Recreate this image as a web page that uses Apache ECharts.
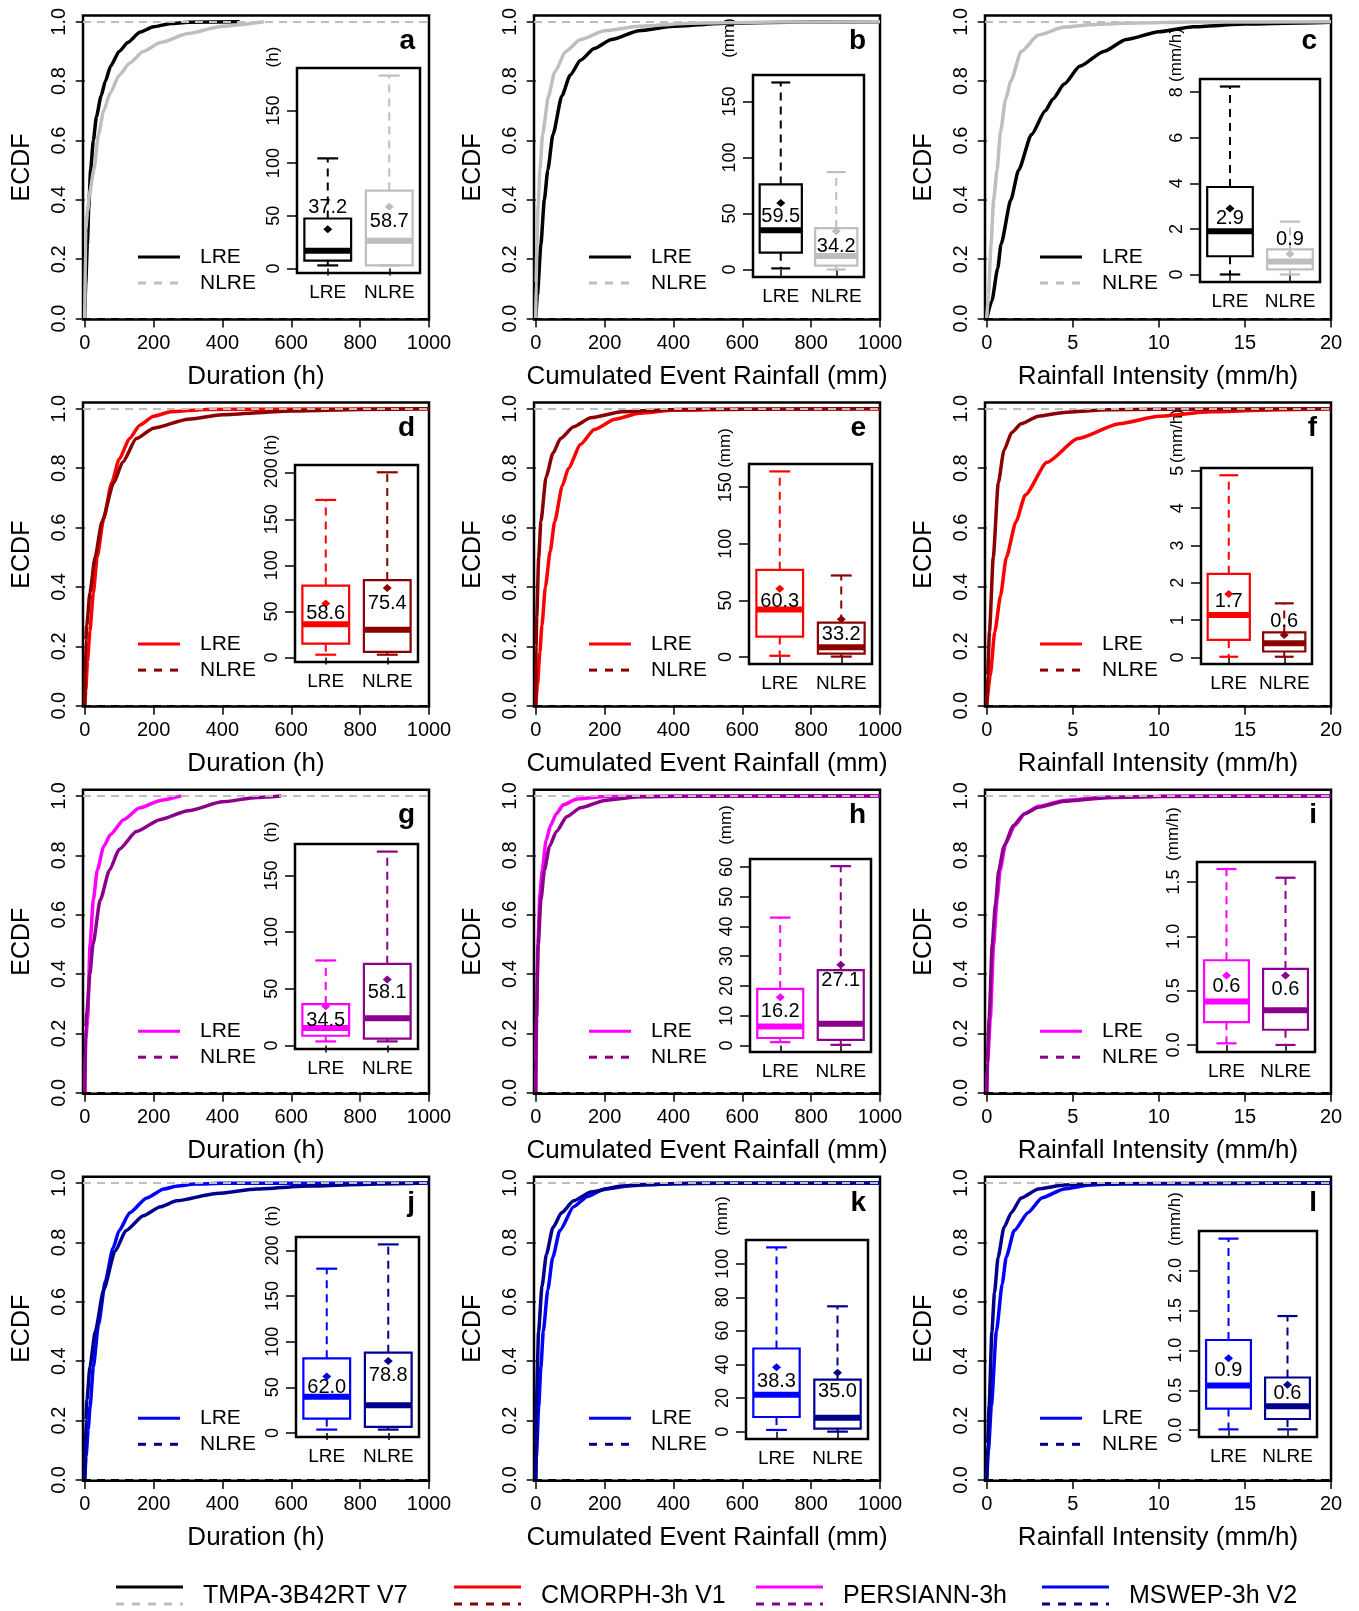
<!DOCTYPE html>
<html>
<head>
<meta charset="utf-8">
<script src="https://cdn.jsdelivr.net/npm/echarts@6/dist/echarts.min.js"></script>
<style>
  html, body { margin: 0; padding: 0; background: #fff; }
  #chart { width: 1359px; height: 1611px; }
</style>
</head>
<body>
<div id="chart"></div>
<script>
// ===== DATA =====
const products = ['TMPA-3B42RT V7', 'CMORPH-3h V1', 'PERSIANN-3h', 'MSWEP-3h V2'];
const panelLetters = ['a', 'b', 'c', 'd', 'e', 'f', 'g', 'h', 'i', 'j', 'k', 'l'];
const xTitles = ['Duration (h)', 'Cumulated Event Rainfall (mm)', 'Rainfall Intensity (mm/h)'];
const unitLabels = ['(h)', '(mm)', '(mm/h)'];
const boxCats = ['LRE', 'NLRE'];
const ecdfTicks = [0, 0.2, 0.4, 0.6, 0.8, 1.0];
const ecdfTickLabels = ['0.0', '0.2', '0.4', '0.6', '0.8', '1.0'];
const durTicks = [0, 200, 400, 600, 800, 1000];
const rainTicks = [0, 200, 400, 600, 800, 1000];
const intTicks = [0, 5, 10, 15, 20];

// ECDF curves [x, F]
const ecdfA_LRE = [[0,0],[3,0.12],[7.6,0.25],[12,0.38],[17,0.5],[25,0.6],[34,0.68],[47.5,0.75],[60,0.8],[75,0.85],[100,0.9],[125,0.93],[160,0.965],[200,0.983],[250,0.994],[300,0.998],[450,1.0]];
const ecdfA_NLRE = [[0,0],[3,0.3],[8,0.36],[15,0.43],[26.5,0.5],[40,0.62],[55,0.7],[74,0.76],[100,0.82],[130,0.86],[170,0.9],[220,0.93],[300,0.96],[400,0.985],[520,1.0]];
const ecdfB_LRE = [[0,0],[5,0.08],[15,0.25],[25,0.4],[35,0.5],[50,0.62],[76,0.75],[100,0.82],[130,0.87],[170,0.91],[220,0.94],[300,0.97],[400,0.985],[550,0.995],[800,0.999],[1000,1.0]];
const ecdfB_NLRE = [[0,0],[1,0.12],[3.5,0.25],[7,0.38],[12,0.5],[20,0.62],[37,0.75],[55,0.83],[87,0.9],[130,0.94],[200,0.97],[300,0.985],[450,0.995],[700,0.999],[1000,1.0]];
const ecdfC_LRE = [[0,0],[0.3,0.06],[0.64,0.17],[0.83,0.25],[1.4,0.4],[1.85,0.5],[2.6,0.62],[3.4,0.7],[3.85,0.74],[4.5,0.79],[5.4,0.85],[6.8,0.9],[8.1,0.94],[10,0.966],[12,0.983],[15,0.992],[20,0.998]];
const ecdfC_NLRE = [[0,0],[0.1,0.08],[0.25,0.25],[0.4,0.4],[0.6,0.5],[0.8,0.63],[1.1,0.74],[1.4,0.8],[2.0,0.9],[3.0,0.955],[4.5,0.982],[6,0.99],[8,0.995],[12,0.999],[20,1.0]];
const ecdfD_LRE = [[0,0],[3,0.05],[8,0.15],[15,0.25],[25,0.38],[36,0.5],[55,0.63],[78,0.75],[100,0.83],[130,0.9],[160,0.945],[200,0.975],[250,0.99],[350,0.998],[500,0.999],[1000,1.0]];
const ecdfD_NLRE = [[0,0],[3,0.22],[6,0.27],[15,0.38],[30,0.5],[50,0.62],[84,0.75],[110,0.82],[150,0.9],[200,0.935],[300,0.965],[400,0.98],[600,0.993],[800,0.998],[1000,1.0]];
const ecdfE_LRE = [[0,0],[5,0.07],[12,0.18],[18,0.27],[28,0.4],[42,0.52],[55,0.62],[77,0.74],[95,0.8],[130,0.88],[170,0.93],[230,0.965],[300,0.985],[400,0.995],[600,0.999],[1000,1.0]];
const ecdfE_NLRE = [[0,0],[1,0.2],[3,0.3],[8.6,0.5],[15,0.62],[30,0.77],[50,0.85],[72,0.9],[110,0.94],[160,0.97],[250,0.99],[400,0.998],[600,0.999],[1000,1.0]];
const ecdfF_LRE = [[0,0],[0.2,0.1],[0.47,0.25],[0.8,0.37],[1.14,0.5],[1.7,0.62],[2.24,0.71],[3.5,0.82],[5.3,0.9],[7.7,0.95],[10,0.975],[13,0.99],[17,0.997],[20,1.0]];
const ecdfF_NLRE = [[0,0],[0.05,0.1],[0.16,0.25],[0.38,0.5],[0.67,0.75],[1.0,0.86],[1.45,0.92],[2,0.95],[3,0.975],[4.5,0.988],[7,0.997],[10,0.999],[20,1.0]];
const ecdfG_LRE = [[0,0],[3,0.18],[8.6,0.25],[15.4,0.5],[25,0.65],[36.5,0.75],[55,0.83],[75,0.87],[113,0.92],[160,0.96],[220,0.985],[280,1.0]];
const ecdfG_NLRE = [[0,0],[3,0.22],[6,0.27],[15,0.4],[24,0.5],[45,0.65],[72,0.75],[100,0.82],[150,0.88],[218,0.92],[300,0.95],[400,0.98],[500,0.995],[570,1.0]];
const ecdfH_LRE = [[0,0],[1.1,0.1],[2.5,0.25],[6.4,0.5],[12,0.67],[19,0.75],[30,0.85],[43,0.9],[60,0.94],[80,0.97],[120,0.99],[200,0.998],[1000,1.0]];
const ecdfH_NLRE = [[0,0],[0.5,0.12],[1.9,0.25],[7.3,0.5],[15,0.65],[25.3,0.75],[40,0.83],[60,0.88],[90,0.93],[130,0.96],[200,0.985],[300,0.997],[400,0.999],[1000,1.0]];
const ecdfI_LRE = [[0,0],[0.05,0.1],[0.21,0.25],[0.4,0.5],[0.6,0.65],[0.78,0.75],[1.1,0.84],[1.62,0.9],[2.2,0.94],[3,0.965],[4.5,0.985],[7,0.996],[10,0.999],[20,1.0]];
const ecdfI_NLRE = [[0,0],[0.03,0.1],[0.14,0.25],[0.32,0.5],[0.5,0.63],[0.7,0.75],[1.0,0.83],[1.54,0.9],[2.2,0.94],[3,0.962],[4.5,0.982],[7,0.994],[10,0.998],[20,1.0]];
const ecdfJ_LRE = [[0,0],[4,0.08],[10,0.17],[15.8,0.25],[25,0.38],[39.6,0.52],[60,0.67],[82,0.78],[100,0.84],[131,0.9],[180,0.95],[230,0.98],[270,0.99],[320,0.997],[400,0.999],[1000,1.0]];
const ecdfJ_NLRE = [[0,0],[3,0.2],[6.6,0.27],[15,0.38],[30.5,0.5],[55,0.64],[88,0.77],[120,0.84],[170,0.89],[220,0.92],[267,0.94],[383,0.965],[500,0.98],[650,0.99],[850,0.997],[1000,1.0]];
const ecdfK_LRE = [[0,0],[2,0.08],[8.7,0.25],[15,0.38],[22,0.5],[35,0.64],[49.5,0.75],[70,0.84],[110,0.92],[150,0.955],[200,0.98],[300,0.995],[450,0.999],[1000,1.0]];
const ecdfK_NLRE = [[0,0],[0.5,0.12],[1.8,0.25],[8.3,0.5],[18,0.65],[31,0.76],[50,0.85],[75,0.9],[110,0.94],[160,0.97],[250,0.99],[400,0.998],[550,0.999],[1000,1.0]];
const ecdfL_LRE = [[0,0],[0.1,0.1],[0.27,0.25],[0.56,0.5],[0.9,0.66],[1.13,0.75],[1.6,0.84],[2.4,0.9],[3.2,0.95],[4.5,0.98],[6,0.993],[8,0.998],[20,1.0]];
const ecdfL_NLRE = [[0,0],[0.05,0.12],[0.14,0.25],[0.3,0.5],[0.45,0.63],[0.66,0.75],[1.0,0.85],[1.43,0.9],[2,0.95],[3,0.98],[4.5,0.993],[6,0.998],[20,1.0]];

// inset boxplots: [low whisker, Q1, median, Q3, high whisker, mean] for LRE, NLRE
const boxA = [[3, 7.6, 17, 47.5, 104.5, 37.2], [3, 3, 26.5, 74, 183, 58.7]];
const boxB = [[1, 15, 35, 76, 167, 59.5], [0, 3.5, 12, 37, 87, 34.2]];
const boxC = [[0, 0.8, 1.9, 3.84, 8.25, 2.9], [0, 0.22, 0.57, 1.1, 2.32, 0.9]];
const boxD = [[3, 15, 36, 78, 171, 58.6], [3, 6, 30, 84, 201, 75.4]];
const boxE = [[1, 18, 42, 77, 164, 60.3], [0.3, 3, 8.6, 30.4, 72, 33.2]];
const boxF = [[0.02, 0.47, 1.14, 2.24, 4.88, 1.7], [0.02, 0.16, 0.38, 0.67, 1.45, 0.6]];
const boxG = [[3.6, 8.6, 15.4, 36.5, 75, 34.5], [3.6, 6, 24, 72, 171, 58.1]];
const boxH = [[1.1, 2.5, 6.4, 19, 43, 16.2], [0.2, 1.9, 7.3, 25.3, 60.3, 27.1]];
const boxI = [[0.015, 0.21, 0.4, 0.78, 1.62, 0.64], [0, 0.14, 0.32, 0.7, 1.54, 0.64]];
const boxJ = [[3.7, 15.8, 39.6, 81.8, 180, 62.0], [3.7, 6.6, 30.5, 88, 206.6, 78.8]];
const boxK = [[1, 8.7, 22, 49.5, 109.7, 38.3], [0, 1.8, 8.3, 31, 74.6, 35.0]];
const boxL = [[0.01, 0.27, 0.56, 1.13, 2.4, 0.9], [0.01, 0.14, 0.3, 0.66, 1.43, 0.57]];

// inset y tick values
const insetTicksA = [0, 50, 100, 150];
const insetTicksB = [0, 50, 100, 150];
const insetTicksC = [0, 2, 4, 6, 8];
const insetTicksD = [0, 50, 100, 150, 200];
const insetTicksE = [0, 50, 100, 150];
const insetTicksF = [0, 1, 2, 3, 4, 5];
const insetTicksG = [0, 50, 100, 150];
const insetTicksH = [0, 10, 20, 30, 40, 50, 60];
const insetTicksI = [0, 0.5, 1.0, 1.5];
const insetTicksJ = [0, 50, 100, 150, 200];
const insetTicksK = [0, 20, 40, 60, 80, 100];
const insetTicksL = [0, 0.5, 1.0, 1.5, 2.0];

// ===== STYLE / LAYOUT =====
const FONT = "'Liberation Sans', Arial, sans-serif";
const lreColors = ['#000000', '#FF0000', '#FF00FF', '#0000FF'];
const nlreColors = ['#BEBEBE', '#8B0000', '#8B008B', '#00008B'];
const COL_LEFT = [83, 534, 985];
const ROW_TOP = [15.5, 402.6, 789.7, 1176.8];
const PW = 346, PH = 304;
// inset frame relative to its panel: dx, dy, w, h
const insetBox = [
  [214, 52.5, 123, 205], [219, 59.5, 111, 202], [215, 63.5, 120, 203],
  [212, 62.4, 123, 197], [215, 61.4, 123, 200], [216, 65.4, 111, 196],
  [212, 54.3, 123, 205], [216, 69.3, 121, 193], [212, 72.3, 118, 190],
  [213, 60.2, 123, 200], [212, 63.2, 122, 199], [214, 54.2, 118, 206]
];
const unitShift = [-11, -37, -24, -20, -16, -32, -12, -34, -28, -21, -24, -12];
const meanShift = [[-22, 15], [14, 15], [10, -14], [10, 15], [13, 15], [7, -14],
                   [14, 13], [14, 16], [11, 14], [11, 14], [14, 19], [12, 9]];
const legendX = [116, 454, 756, 1042];

const panels = [
  { lre: ecdfA_LRE, nlre: ecdfA_NLRE, box: boxA, ticks: insetTicksA },
  { lre: ecdfB_LRE, nlre: ecdfB_NLRE, box: boxB, ticks: insetTicksB },
  { lre: ecdfC_LRE, nlre: ecdfC_NLRE, box: boxC, ticks: insetTicksC },
  { lre: ecdfD_LRE, nlre: ecdfD_NLRE, box: boxD, ticks: insetTicksD },
  { lre: ecdfE_LRE, nlre: ecdfE_NLRE, box: boxE, ticks: insetTicksE },
  { lre: ecdfF_LRE, nlre: ecdfF_NLRE, box: boxF, ticks: insetTicksF },
  { lre: ecdfG_LRE, nlre: ecdfG_NLRE, box: boxG, ticks: insetTicksG },
  { lre: ecdfH_LRE, nlre: ecdfH_NLRE, box: boxH, ticks: insetTicksH },
  { lre: ecdfI_LRE, nlre: ecdfI_NLRE, box: boxI, ticks: insetTicksI },
  { lre: ecdfJ_LRE, nlre: ecdfJ_NLRE, box: boxJ, ticks: insetTicksJ },
  { lre: ecdfK_LRE, nlre: ecdfK_NLRE, box: boxK, ticks: insetTicksK },
  { lre: ecdfL_LRE, nlre: ecdfL_NLRE, box: boxL, ticks: insetTicksL }
];

const grids = [], xAxes = [], yAxes = [], series = [], graphics = [];

function txt(x, y, text, size, opts) {
  graphics.push(Object.assign({
    type: 'text', x: x, y: y, silent: true,
    style: Object.assign({
      text: text, fill: '#000', fontSize: size, fontFamily: FONT,
      align: 'left', verticalAlign: 'middle'
    }, (opts && opts.style) || {})
  }, (opts && opts.el) || {}));
}
function seg(x1, y1, x2, y2, color, width, dash) {
  graphics.push({
    type: 'line', silent: true,
    shape: { x1: x1, y1: y1, x2: x2, y2: y2 },
    style: { stroke: color, lineWidth: width, lineDash: dash || null }
  });
}

function makeBoxRender(colors, shifts) {
  return function (params, api) {
    const i = params.dataIndex;
    const color = colors[i];
    const x = api.value(0);
    const lo = api.value(1), q1 = api.value(2), med = api.value(3),
          q3 = api.value(4), hi = api.value(5), mean = api.value(6);
    const p = (a, b) => api.coord([a, b]);
    const hw = 0.38, cw = 0.17;
    const tl = p(x - hw, q3), br = p(x + hw, q1), m = p(x, mean);
    const ln = (a, b, st) => ({ type: 'line', shape: { x1: a[0], y1: a[1], x2: b[0], y2: b[1] }, style: st });
    return {
      type: 'group',
      children: [
        ln(p(x, q3), p(x, hi), { stroke: color, lineWidth: 2, lineDash: [8, 6] }),
        ln(p(x, q1), p(x, lo), { stroke: color, lineWidth: 2, lineDash: [8, 6] }),
        ln(p(x - cw, hi), p(x + cw, hi), { stroke: color, lineWidth: 2.2 }),
        ln(p(x - cw, lo), p(x + cw, lo), { stroke: color, lineWidth: 2.2 }),
        { type: 'rect', shape: { x: tl[0], y: tl[1], width: br[0] - tl[0], height: br[1] - tl[1] },
          style: { fill: 'none', stroke: color, lineWidth: 2.2 } },
        ln(p(x - hw, med), p(x + hw, med), { stroke: color, lineWidth: 6 }),
        { type: 'polygon', shape: { points: [[m[0], m[1] - 4], [m[0] + 4.5, m[1]], [m[0], m[1] + 4], [m[0] - 4.5, m[1]]] },
          style: { fill: color } },
        { type: 'text', x: m[0], y: m[1] + shifts[i],
          style: { text: mean.toFixed(1), fill: '#000', fontSize: 20, fontFamily: FONT,
                   align: 'center', verticalAlign: 'middle' } }
      ]
    };
  };
}

panels.forEach((pn, k) => {
  const r = Math.floor(k / 3), c = k % 3;
  const L = COL_LEFT[c], T = ROW_TOP[r];
  const xTicks = c === 0 ? durTicks : (c === 1 ? rainTicks : intTicks);
  const xMax = xTicks[xTicks.length - 1];
  const gMain = 2 * k, gIn = 2 * k + 1;

  grids.push({ left: L, top: T, width: PW, height: PH, show: true,
               borderColor: '#000', borderWidth: 2.5, backgroundColor: 'transparent' });
  const ib = insetBox[k];
  grids.push({ left: L + ib[0], top: T + ib[1], width: ib[2], height: ib[3], show: true,
               borderColor: '#000', borderWidth: 2.5, backgroundColor: '#fff' });

  xAxes.push({
    gridIndex: gMain, type: 'value', min: -0.005 * xMax, max: xMax,
    axisLine: { show: false }, splitLine: { show: false },
    axisTick: { customValues: xTicks, length: 9, lineStyle: { color: '#000', width: 1.5 } },
    axisLabel: { customValues: xTicks, color: '#000', fontSize: 20, fontFamily: FONT, margin: 14,
                 formatter: v => String(v) },
    name: xTitles[c], nameLocation: 'middle', nameGap: 44,
    nameTextStyle: { color: '#000', fontSize: 26, fontFamily: FONT }
  });
  yAxes.push({
    gridIndex: gMain, type: 'value', min: -0.003, max: 1.021,
    axisLine: { show: false }, splitLine: { show: false },
    axisTick: { customValues: ecdfTicks, length: 9, lineStyle: { color: '#000', width: 1.5 } },
    axisLabel: {
      customValues: ecdfTicks, rotate: 90, color: '#000', fontSize: 20, fontFamily: FONT, margin: 14,
      formatter: v => ecdfTickLabels[ecdfTicks.findIndex(t => Math.abs(t - v) < 1e-6)]
    },
    name: 'ECDF', nameLocation: 'middle', nameGap: 48, nameRotate: 90,
    nameTextStyle: { color: '#000', fontSize: 25, fontFamily: FONT }
  });

  // inset axes
  let lo = Infinity, hi = -Infinity;
  pn.box.forEach(b => { lo = Math.min(lo, b[0]); hi = Math.max(hi, b[4]); });
  const span = hi - lo;
  const dec = pn.ticks.some(t => t % 1 !== 0);
  xAxes.push({
    gridIndex: gIn, type: 'value', min: 0.5, max: 2.5,
    axisLine: { show: false }, splitLine: { show: false },
    axisTick: { customValues: [1, 2], length: 7, lineStyle: { color: '#000', width: 1.5 } },
    axisLabel: { customValues: [1, 2], color: '#000', fontSize: 19, fontFamily: FONT, margin: 10,
                 formatter: v => boxCats[Math.round(v) - 1] }
  });
  yAxes.push({
    gridIndex: gIn, type: 'value', min: lo - 0.04 * span, max: hi + 0.04 * span,
    axisLine: { show: false }, splitLine: { show: false },
    axisTick: { customValues: pn.ticks, length: 10, lineStyle: { color: '#000', width: 1.5 } },
    axisLabel: { customValues: pn.ticks, rotate: 90, color: '#000', fontSize: 18, fontFamily: FONT, margin: 14,
                 formatter: v => dec ? v.toFixed(1) : String(v) }
  });

  series.push({
    type: 'line', xAxisIndex: gMain, yAxisIndex: gMain, data: pn.lre,
    symbol: 'none', smooth: 0.2, smoothMonotone: 'x', z: 3,
    lineStyle: { color: lreColors[r], width: 3.5 },
    markLine: {
      silent: true, symbol: 'none', label: { show: false }, animation: false,
      lineStyle: { type: [8, 6], width: 2 },
      data: [
        { yAxis: 1, lineStyle: { color: '#BEBEBE', type: [8, 6], width: 2 } },
        { yAxis: 0, lineStyle: { color: '#000', type: [8, 6], width: 2 } }
      ]
    }
  });
  series.push({
    type: 'line', xAxisIndex: gMain, yAxisIndex: gMain, data: pn.nlre,
    symbol: 'none', smooth: 0.2, smoothMonotone: 'x', z: 3,
    lineStyle: { color: nlreColors[r], width: 3.5 }
  });
  series.push({
    type: 'custom', xAxisIndex: gIn, yAxisIndex: gIn, z: 5, clip: false,
    data: pn.box.map((b, i) => [i + 1].concat(b)),
    encode: { x: 0, y: [1, 2, 3, 4, 5, 6] },
    renderItem: makeBoxRender([lreColors[r], nlreColors[r]], meanShift[k])
  });

  // panel legend
  seg(L + 55, T + 241.5, L + 97, T + 241.5, lreColors[r], 3);
  seg(L + 55, T + 267.5, L + 97, T + 267.5, nlreColors[r], 3, [8, 8]);
  txt(L + 117, T + 241.5, 'LRE', 21);
  txt(L + 117, T + 267.5, 'NLRE', 21);
  // panel letter
  txt(L + PW - 14, T + 40, panelLetters[k], 28,
      { style: { align: 'right', verticalAlign: 'bottom', fontWeight: 'bold' } });
  // inset unit label
  txt(L + ib[0] - 24, T + ib[1] + unitShift[k], unitLabels[c], 17,
      { el: { rotation: Math.PI / 2 }, style: { align: 'center', verticalAlign: 'middle' } });
});

// bottom legend
products.forEach((name, i) => {
  const x = legendX[i];
  seg(x, 1587, x + 67, 1587, lreColors[i], 3);
  seg(x, 1604, x + 67, 1604, nlreColors[i], 3, [8, 8]);
  txt(x + 87, 1596, name, 25);
});

const chart = echarts.init(document.getElementById('chart'));
chart.setOption({
  animation: false,
  backgroundColor: '#fff',
  grid: grids,
  xAxis: xAxes,
  yAxis: yAxes,
  series: series,
  graphic: { elements: graphics }
});
</script>
</body>
</html>
